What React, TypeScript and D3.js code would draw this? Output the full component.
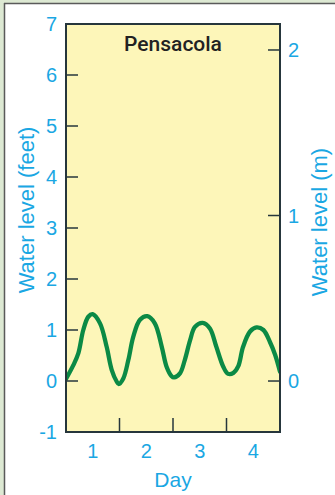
import React from "react";
import * as d3 from "d3";

const days = [0.5, 0.637, 0.73, 0.823, 0.917, 0.998, 1.136, 1.26, 1.354, 1.447, 1.485, 1.571, 1.665, 1.758, 1.883, 2.02, 2.16, 2.29, 2.38, 2.47, 2.52, 2.63, 2.72, 2.82, 2.91, 3.055, 3.19, 3.31, 3.44, 3.53, 3.63, 3.72, 3.81, 3.94, 4.06, 4.19, 4.31, 4.41, 4.5];
const levelsFt = [0.04, 0.31, 0.54, 1.0, 1.26, 1.31, 1.13, 0.67, 0.22, -0.01, -0.06, 0.05, 0.41, 0.87, 1.2, 1.27, 1.13, 0.67, 0.28, 0.1, 0.07, 0.15, 0.41, 0.8, 1.06, 1.14, 1.03, 0.67, 0.28, 0.14, 0.16, 0.29, 0.67, 0.97, 1.05, 1.0, 0.77, 0.51, 0.18];
const feetTicks = [-1, 0, 1, 2, 3, 4, 5, 6, 7];
const meterTicks = [0, 1, 2];
const dayLabels = [1, 2, 3, 4];
const dayTicks = [1.5, 2.5, 3.5];
const title = "Pensacola";

const W = 335, H = 495;
const left = 66, right = 280, top = 24, bottom = 432;
const blue = "#1aa7e3";
const dark = "#26363c";
const font = "'Liberation Sans', Arial, sans-serif";

export default function App() {
  const x = d3.scaleLinear().domain([0.5, 4.5]).range([left, right]);
  const y = d3.scaleLinear().domain([-1, 7]).range([bottom, top]);
  const ym = d3.scaleLinear().domain([-0.308, 2.157]).range([bottom, top]);
  const pts: [number, number][] = days.map((d, i) => [d, levelsFt[i]]);
  const line = d3
    .line<[number, number]>()
    .x((d) => x(d[0]))
    .y((d) => y(d[1]))
    .curve(d3.curveCatmullRom.alpha(0.5));
  return (
    <div style={{ position: "fixed", left: 0, top: 0 }}>
      <svg width={W} height={H} style={{ display: "block" }}>
        <rect x={0} y={0} width={W} height={H} fill="#dde9d3" />
        <rect x={4} y={3} width={W - 4} height={H - 3} fill="#ffffff" />
        <line x1={4.5} y1={3} x2={4.5} y2={H} stroke="#5a5a5a" strokeWidth={1.5} />
        <line x1={4} y1={3.5} x2={W} y2={3.5} stroke="#5a5a5a" strokeWidth={1.5} />
        <rect x={left} y={top} width={right - left} height={bottom - top} fill="#fdf6b9" />
        <clipPath id="plotclip">
          <rect x={left} y={top} width={right - left} height={bottom - top} />
        </clipPath>
        <path d={line(pts) || ""} fill="none" stroke="#0b8a45" strokeWidth={4.3} strokeLinecap="round" strokeLinejoin="round" clipPath="url(#plotclip)" />
        {feetTicks.map((t) => (
          <g key={"f" + t}>
            <line x1={left} x2={left + 12} y1={y(t)} y2={y(t)} stroke={dark} strokeWidth={1.5} />
            <text x={left - 9} y={y(t)} dy="0.36em" textAnchor="end" fill={blue} fontSize={20} fontFamily={font}>{t}</text>
          </g>
        ))}
        {meterTicks.map((t) => (
          <g key={"m" + t}>
            <line x1={right - 12} x2={right} y1={ym(t)} y2={ym(t)} stroke={dark} strokeWidth={1.5} />
            <text x={right + 8} y={ym(t)} dy="0.36em" textAnchor="start" fill={blue} fontSize={20} fontFamily={font}>{t}</text>
          </g>
        ))}
        {dayTicks.map((t) => (
          <line key={"d" + t} x1={x(t)} x2={x(t)} y1={bottom} y2={bottom - 14} stroke={dark} strokeWidth={1.5} />
        ))}
        {dayLabels.map((t) => (
          <text key={"l" + t} x={x(t)} y={bottom + 26} textAnchor="middle" fill={blue} fontSize={20} fontFamily={font}>{t}</text>
        ))}
        <rect x={left} y={top} width={right - left} height={bottom - top} fill="none" stroke={dark} strokeWidth={2} />
        <text x={(left + right) / 2} y={51} textAnchor="middle" fill="#222222" fontSize={21} fontWeight={500} fontFamily="Roboto, 'Liberation Sans', sans-serif">{title}</text>
        <text x={(left + right) / 2} y={487} textAnchor="middle" fill={blue} fontSize={21} fontFamily={font}>Day</text>
        <text transform={`translate(34,210) rotate(-90)`} textAnchor="middle" fill={blue} fontSize={22} fontFamily={font}>Water level (feet)</text>
        <text transform={`translate(327,222) rotate(-90)`} textAnchor="middle" fill={blue} fontSize={22} fontFamily={font}>Water level (m)</text>
      </svg>
    </div>
  );
}
